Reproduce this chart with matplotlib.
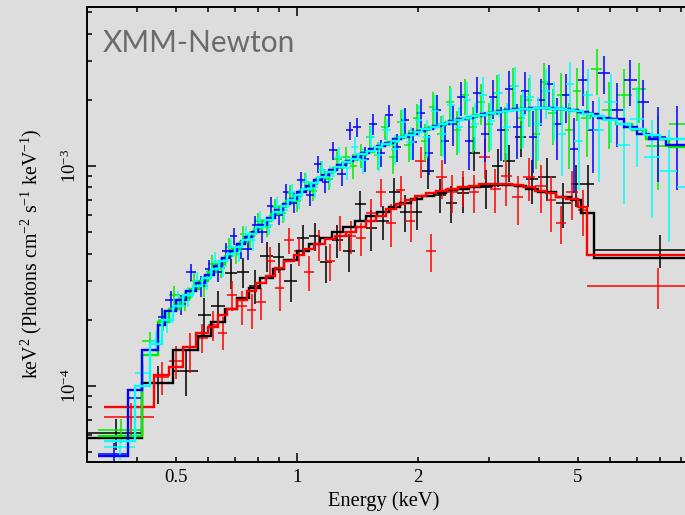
import numpy as np
import matplotlib
matplotlib.use('Agg')
import matplotlib.pyplot as plt
from matplotlib.ticker import NullFormatter

# ---------------- data (keV bin edges, keV^2 flux, 1-sigma errors, model) ----------------
black_edges = [0.30, 0.41, 0.49, 0.566, 0.61, 0.66, 0.71, 0.76, 0.81, 0.87, 0.93, 1.00, 1.07,
               1.14, 1.22, 1.30, 1.39, 1.48, 1.58, 1.69, 1.80, 1.92, 2.05, 2.19, 2.34, 2.50,
               2.67, 2.85, 3.05, 3.26, 3.48, 3.72, 3.98, 4.40, 4.80, 5.10, 5.47, 10.5]
black_flux = [6.1e-5, 1.03e-4, 1.17e-4, 2.1e-4, 2.3e-4, 3.26e-4, 3.3e-4, 2.85e-4, 3.9e-4, 3.85e-4,
              3.0e-4, 4.7e-4, 4.8e-4, 3.65e-4, 4.6e-4, 4.1e-4, 6.7e-4, 5.2e-4, 5.6e-4, 7.6e-4,
              6.2e-4, 6.2e-4, 9.5e-4, 7.4e-4, 6.8e-4, 7.5e-4, 1.15e-3, 8.0e-4, 1.0e-3, 1.05e-3,
              1.35e-3, 8.7e-4, 8.9e-4, 6.8e-4, 8.3e-4, 8.3e-4, 4.15e-4]
black_err = [1.0e-5, 2.0e-5, 2.7e-5, 4.0e-5, 4.0e-5, 5.0e-5, 5.0e-5, 5.0e-5, 6.0e-5, 6.0e-5,
             6.0e-5, 7.0e-5, 7.0e-5, 7.0e-5, 8.0e-5, 8.0e-5, 1.0e-4, 1.1e-4, 1.0e-4, 1.2e-4,
             1.2e-4, 1.1e-4, 1.6e-4, 1.3e-4, 1.3e-4, 1.4e-4, 2.0e-4, 1.6e-4, 2.0e-4, 2.0e-4,
             2.5e-4, 2.0e-4, 2.0e-4, 1.6e-4, 1.8e-4, 1.8e-4, 7.0e-5]
black_model = [5.8e-5, 1.03e-4, 1.45e-4, 1.69e-4, 1.96e-4, 2.25e-4, 2.5e-4, 2.8e-4, 3.1e-4, 3.4e-4,
               3.75e-4, 4.1e-4, 4.4e-4, 4.7e-4, 5.0e-4, 5.3e-4, 5.6e-4, 5.9e-4, 6.2e-4, 6.5e-4,
               6.8e-4, 7.05e-4, 7.3e-4, 7.55e-4, 7.75e-4, 7.9e-4, 8.05e-4, 8.15e-4, 8.2e-4, 8.2e-4,
               8.1e-4, 7.9e-4, 7.6e-4, 7.2e-4, 7.0e-4, 6.1e-4, 3.8e-4]

red_edges = [0.33, 0.44, 0.48, 0.52, 0.56, 0.60, 0.635, 0.67, 0.71, 0.75, 0.79, 0.835, 0.88,
             0.93, 0.98, 1.04, 1.10, 1.17, 1.24, 1.32, 1.40, 1.48, 1.57, 1.66, 1.76, 1.86,
             1.97, 2.09, 2.22, 2.36, 2.51, 2.67, 2.84, 3.02, 3.21, 3.42, 3.65, 3.90, 4.17,
             4.41, 4.67, 5.00, 5.27, 10.5]
red_flux = [7.2e-5, 1.10e-4, 1.3e-4, 1.45e-4, 1.66e-4, 1.9e-4, 1.75e-4, 2.6e-4, 2.3e-4, 2.22e-4,
            2.4e-4, 3.7e-4, 2.8e-4, 4.6e-4, 4.1e-4, 3.3e-4, 4.4e-4, 3.7e-4, 5.0e-4, 4.8e-4,
            4.7e-4, 6.1e-4, 7.6e-4, 5.5e-4, 7.8e-4, 5.6e-4, 1.05e-3, 4.1e-4, 8.9e-4, 7.6e-4,
            8.0e-4, 7.6e-4, 1.1e-3, 7.9e-4, 9.0e-4, 7.2e-4, 8.9e-4, 8.1e-4, 7.0e-4, 5.5e-4,
            7.6e-4, 6.3e-4, 2.84e-4]
red_err = [1.2e-5, 1.9e-5, 2.2e-5, 3.0e-5, 2.5e-5, 3.0e-5, 3.0e-5, 4.0e-5, 4.0e-5, 4.0e-5,
           4.0e-5, 6.0e-5, 6.0e-5, 6.0e-5, 6.0e-5, 6.0e-5, 7.0e-5, 7.0e-5, 9.0e-5, 8.0e-5,
           8.0e-5, 1.0e-4, 1.1e-4, 1.2e-4, 1.2e-4, 1.1e-4, 1.7e-4, 8.0e-5, 1.8e-4, 1.5e-4,
           1.5e-4, 1.5e-4, 2.3e-4, 1.8e-4, 2.4e-4, 1.8e-4, 2.0e-4, 2.0e-4, 2.0e-4, 1.1e-4,
           1.9e-4, 1.5e-4, 6.0e-5]
red_model = [8.0e-5, 1.12e-4, 1.22e-4, 1.5e-4, 1.74e-4, 1.85e-4, 2.1e-4, 2.25e-4, 2.45e-4, 2.7e-4,
             2.95e-4, 3.15e-4, 3.45e-4, 3.7e-4, 3.95e-4, 4.2e-4, 4.4e-4, 4.65e-4, 4.8e-4, 5.0e-4,
             5.3e-4, 5.6e-4, 5.95e-4, 6.4e-4, 6.75e-4, 7.0e-4, 7.3e-4, 7.5e-4, 7.7e-4, 7.9e-4,
             8.05e-4, 8.15e-4, 8.25e-4, 8.3e-4, 8.3e-4, 8.2e-4, 8.0e-4, 7.7e-4, 7.5e-4, 7.25e-4,
             7.1e-4, 6.5e-4, 3.94e-4]

green_edges = [0.32, 0.41, 0.45, 0.48, 0.51, 0.54, 0.57, 0.60, 0.63, 0.66, 0.69, 0.72, 0.75,
               0.78, 0.82, 0.86, 0.90, 0.94, 0.98, 1.02, 1.07, 1.12, 1.17, 1.23, 1.29, 1.35,
               1.41, 1.48, 1.55, 1.62, 1.69, 1.77, 1.85, 1.94, 2.03, 2.13, 2.23, 2.34, 2.45,
               2.56, 2.68, 2.81, 2.94, 3.07, 3.21, 3.36, 3.52, 3.68, 3.85, 4.03, 4.22, 4.42,
               4.63, 4.85, 5.10, 5.40, 5.75, 6.20, 6.80, 7.40, 8.40, 10.5]
green_flux = [6.3e-5, 1.6e-4, 2.0e-4, 2.6e-4, 2.45e-4, 3.0e-4, 2.85e-4, 3.6e-4, 3.45e-4, 4.3e-4,
              4.0e-4, 4.9e-4, 4.6e-4, 5.6e-4, 5.3e-4, 6.5e-4, 6.1e-4, 7.5e-4, 6.9e-4, 8.5e-4,
              7.7e-4, 9.6e-4, 8.7e-4, 1.08e-3, 1.10e-3, 1.0e-3, 1.12e-3, 1.35e-3, 1.12e-3, 1.50e-3,
              1.10e-3, 1.58e-3, 1.25e-3, 1.65e-3, 1.30e-3, 1.85e-3, 1.40e-3, 1.95e-3, 1.45e-3, 2.1e-3,
              1.50e-3, 1.95e-3, 1.55e-3, 2.15e-3, 1.45e-3, 2.3e-3, 1.65e-3, 2.0e-3, 1.40e-3, 2.4e-3,
              1.75e-3, 2.1e-3, 1.45e-3, 2.2e-3, 1.65e-3, 2.75e-3, 1.80e-3, 2.1e-3, 2.25e-3, 1.23e-3,
              1.55e-3]
green_err = [0.8e-5, 1.6e-5, 2.2e-5, 2.6e-5, 2.6e-5, 3.0e-5, 3.0e-5, 3.5e-5, 3.5e-5, 4.0e-5,
             4.0e-5, 4.5e-5, 4.6e-5, 5.2e-5, 5.4e-5, 6.0e-5, 6.2e-5, 7.0e-5, 7.0e-5, 8.0e-5,
             8.0e-5, 9.0e-5, 9.5e-5, 1.1e-4, 1.2e-4, 1.3e-4, 1.4e-4, 1.7e-4, 1.6e-4, 1.9e-4,
             1.8e-4, 2.2e-4, 2.1e-4, 2.6e-4, 2.5e-4, 3.1e-4, 2.9e-4, 3.5e-4, 3.3e-4, 3.9e-4,
             3.6e-4, 4.2e-4, 3.9e-4, 4.5e-4, 4.1e-4, 5.0e-4, 4.5e-4, 5.0e-4, 4.3e-4, 5.4e-4,
             5.0e-4, 5.5e-4, 4.8e-4, 6.0e-4, 5.5e-4, 6.5e-4, 6.0e-4, 6.5e-4, 6.8e-4, 4.5e-4,
             5.5e-4]
green_model = [5.9e-5, 1.38e-4, 1.95e-4, 2.25e-4, 2.5e-4, 2.75e-4, 3.0e-4, 3.3e-4, 3.6e-4, 3.9e-4,
               4.2e-4, 4.5e-4, 4.8e-4, 5.15e-4, 5.6e-4, 6.05e-4, 6.5e-4, 6.9e-4, 7.3e-4, 7.8e-4,
               8.3e-4, 8.8e-4, 9.3e-4, 9.8e-4, 1.03e-3, 1.07e-3, 1.12e-3, 1.16e-3, 1.21e-3, 1.25e-3,
               1.29e-3, 1.34e-3, 1.38e-3, 1.42e-3, 1.46e-3, 1.50e-3, 1.54e-3, 1.58e-3, 1.61e-3, 1.64e-3,
               1.67e-3, 1.70e-3, 1.73e-3, 1.76e-3, 1.78e-3, 1.80e-3, 1.81e-3, 1.82e-3, 1.83e-3, 1.83e-3,
               1.82e-3, 1.81e-3, 1.80e-3, 1.78e-3, 1.74e-3, 1.69e-3, 1.64e-3, 1.56e-3, 1.46e-3, 1.33e-3,
               1.22e-3]

blue_edges = [0.32, 0.38, 0.41, 0.45, 0.47, 0.50, 0.53, 0.56, 0.59, 0.62, 0.65, 0.68, 0.71,
              0.74, 0.77, 0.80, 0.84, 0.88, 0.92, 0.96, 1.00, 1.05, 1.10, 1.15, 1.20, 1.26,
              1.32, 1.38, 1.44, 1.51, 1.58, 1.65, 1.73, 1.81, 1.90, 1.99, 2.08, 2.18, 2.28,
              2.39, 2.50, 2.62, 2.74, 2.87, 3.00, 3.14, 3.29, 3.44, 3.60, 3.77, 3.95, 4.14,
              4.34, 4.55, 4.77, 5.00, 5.30, 5.60, 6.00, 6.50, 7.00, 7.50, 8.30, 9.30, 10.5]
blue_flux = [4.9e-5, 8.8e-5, 1.38e-4, 2.05e-4, 2.45e-4, 2.35e-4, 3.3e-4, 2.85e-4, 3.4e-4, 3.3e-4,
             4.1e-4, 4.8e-4, 4.2e-4, 4.2e-4, 5.4e-4, 5.0e-4, 6.6e-4, 6.0e-4, 7.6e-4, 6.8e-4,
             8.6e-4, 7.4e-4, 1.02e-3, 8.5e-4, 1.18e-3, 9.2e-4, 1.45e-3, 1.50e-3, 1.08e-3, 1.55e-3,
             1.15e-3, 1.70e-3, 1.22e-3, 1.62e-3, 1.28e-3, 1.75e-3, 1.15e-3, 1.80e-3, 1.30e-3, 1.55e-3,
             2.05e-3, 1.30e-3, 2.15e-3, 1.40e-3, 2.05e-3, 1.45e-3, 2.25e-3, 1.50e-3, 2.2e-3, 1.35e-3,
             2.0e-3, 2.35e-3, 1.55e-3, 2.1e-3, 1.20e-3, 2.45e-3, 1.45e-3, 2.65e-3, 1.80e-3, 2.45e-3,
             1.95e-3, 1.35e-3, 1.33e-3, 1.1e-3]
blue_err = [0.6e-5, 1.1e-5, 1.5e-5, 2.2e-5, 2.5e-5, 2.5e-5, 3.0e-5, 3.0e-5, 3.2e-5, 3.3e-5,
            3.8e-5, 4.2e-5, 4.2e-5, 4.5e-5, 5.0e-5, 5.2e-5, 6.0e-5, 6.0e-5, 7.0e-5, 7.0e-5,
            8.0e-5, 8.0e-5, 9.5e-5, 9.5e-5, 1.1e-4, 1.1e-4, 1.4e-4, 1.5e-4, 1.4e-4, 1.7e-4,
            1.6e-4, 1.9e-4, 1.8e-4, 2.2e-4, 2.1e-4, 2.6e-4, 2.4e-4, 3.0e-4, 2.8e-4, 3.2e-4,
            3.6e-4, 3.4e-4, 4.0e-4, 3.6e-4, 4.2e-4, 4.0e-4, 4.5e-4, 4.2e-4, 4.8e-4, 4.2e-4,
            4.8e-4, 5.2e-4, 4.8e-4, 5.3e-4, 4.5e-4, 5.8e-4, 5.2e-4, 5.2e-4, 5.8e-4, 5.8e-4,
            5.2e-4, 5.0e-4, 5.5e-4, 5.5e-4]
blue_model = [4.8e-5, 9.6e-5, 1.45e-4, 1.9e-4, 2.2e-4, 2.45e-4, 2.7e-4, 2.95e-4, 3.2e-4, 3.5e-4,
              3.8e-4, 4.1e-4, 4.4e-4, 4.75e-4, 5.0e-4, 5.4e-4, 5.8e-4, 6.3e-4, 6.7e-4, 7.1e-4,
              7.6e-4, 8.1e-4, 8.6e-4, 9.1e-4, 9.6e-4, 1.01e-3, 1.05e-3, 1.10e-3, 1.14e-3, 1.19e-3,
              1.23e-3, 1.27e-3, 1.32e-3, 1.36e-3, 1.40e-3, 1.44e-3, 1.48e-3, 1.52e-3, 1.56e-3, 1.60e-3,
              1.63e-3, 1.66e-3, 1.69e-3, 1.72e-3, 1.75e-3, 1.77e-3, 1.79e-3, 1.81e-3, 1.82e-3, 1.83e-3,
              1.83e-3, 1.83e-3, 1.82e-3, 1.81e-3, 1.79e-3, 1.76e-3, 1.72e-3, 1.66e-3, 1.63e-3, 1.50e-3,
              1.40e-3, 1.32e-3, 1.25e-3, 1.22e-3]

cyan_edges = [0.33, 0.395, 0.43, 0.46, 0.49, 0.52, 0.55, 0.58, 0.61, 0.64, 0.67, 0.70, 0.73,
              0.76, 0.79, 0.83, 0.87, 0.91, 0.95, 0.99, 1.03, 1.08, 1.13, 1.18, 1.24, 1.30,
              1.36, 1.42, 1.49, 1.56, 1.63, 1.71, 1.79, 1.87, 1.96, 2.05, 2.15, 2.25, 2.36,
              2.47, 2.59, 2.71, 2.84, 2.97, 3.11, 3.25, 3.40, 3.56, 3.72, 3.89, 4.07, 4.26,
              4.46, 4.67, 4.89, 5.15, 5.45, 5.80, 6.25, 6.75, 7.30, 8.00, 8.80, 10.0]
cyan_flux = [5.3e-5, 1.15e-4, 1.6e-4, 1.95e-4, 2.45e-4, 2.55e-4, 3.0e-4, 3.05e-4, 3.7e-4, 3.5e-4,
             4.3e-4, 4.1e-4, 4.9e-4, 4.6e-4, 5.7e-4, 5.4e-4, 6.6e-4, 6.3e-4, 7.6e-4, 7.1e-4,
             8.5e-4, 8.0e-4, 9.6e-4, 9.0e-4, 1.10e-3, 9.8e-4, 1.22e-3, 1.06e-3, 1.35e-3, 1.12e-3,
             1.45e-3, 1.20e-3, 1.58e-3, 1.28e-3, 1.62e-3, 1.35e-3, 1.78e-3, 1.40e-3, 1.90e-3, 1.50e-3,
             2.0e-3, 1.55e-3, 2.1e-3, 1.60e-3, 2.15e-3, 1.50e-3, 2.3e-3, 1.70e-3, 2.05e-3, 1.55e-3,
             2.2e-3, 1.85e-3, 1.40e-3, 2.35e-3, 1.30e-3, 2.1e-3, 1.45e-3, 1.95e-3, 1.25e-3, 1.64e-3,
             1.10e-3, 9.5e-4, 8.0e-4]
cyan_err = [0.7e-5, 1.2e-5, 1.7e-5, 2.0e-5, 2.5e-5, 2.6e-5, 3.0e-5, 3.1e-5, 3.5e-5, 3.6e-5,
            4.0e-5, 4.2e-5, 4.6e-5, 4.8e-5, 5.4e-5, 5.6e-5, 6.2e-5, 6.5e-5, 7.2e-5, 7.3e-5,
            8.2e-5, 8.4e-5, 9.4e-5, 9.6e-5, 1.2e-4, 1.2e-4, 1.4e-4, 1.4e-4, 1.7e-4, 1.7e-4,
            1.9e-4, 1.9e-4, 2.3e-4, 2.2e-4, 2.7e-4, 2.6e-4, 3.2e-4, 3.0e-4, 3.7e-4, 3.5e-4,
            4.0e-4, 3.8e-4, 4.4e-4, 4.2e-4, 4.8e-4, 4.3e-4, 5.2e-4, 4.9e-4, 5.4e-4, 5.0e-4,
            5.7e-4, 5.5e-4, 5.0e-4, 6.2e-4, 5.2e-4, 6.5e-4, 6.0e-4, 6.8e-4, 5.8e-4, 6.5e-4,
            5.2e-4, 5.0e-4, 4.2e-4]
cyan_model = [5.6e-5, 1.0e-4, 1.55e-4, 2.0e-4, 2.3e-4, 2.6e-4, 2.85e-4, 3.1e-4, 3.4e-4, 3.7e-4,
              4.0e-4, 4.3e-4, 4.6e-4, 4.9e-4, 5.3e-4, 5.7e-4, 6.15e-4, 6.6e-4, 7.0e-4, 7.4e-4,
              7.9e-4, 8.4e-4, 8.9e-4, 9.4e-4, 9.9e-4, 1.04e-3, 1.08e-3, 1.13e-3, 1.17e-3, 1.22e-3,
              1.26e-3, 1.30e-3, 1.35e-3, 1.39e-3, 1.43e-3, 1.47e-3, 1.51e-3, 1.55e-3, 1.59e-3, 1.62e-3,
              1.65e-3, 1.68e-3, 1.71e-3, 1.74e-3, 1.76e-3, 1.78e-3, 1.80e-3, 1.81e-3, 1.82e-3, 1.83e-3,
              1.83e-3, 1.82e-3, 1.81e-3, 1.79e-3, 1.77e-3, 1.73e-3, 1.68e-3, 1.62e-3, 1.55e-3, 1.47e-3,
              1.38e-3, 1.33e-3, 1.33e-3]

# ticks
x_major_ticks = [1, 10]
x_major_labels = ['1', '']
x_minor_ticks = [0.4, 0.5, 0.6, 0.7, 0.8, 0.9, 2, 3, 4, 5, 6, 7, 8, 9]
x_minor_labels = ['', '0.5', '', '', '', '', '2', '', '', '5', '', '', '', '']
y_major_ticks = [1e-4, 1e-3]
y_major_labels = [r'$10^{-4}$', r'$10^{-3}$']
y_minor_ticks = [5e-5, 6e-5, 7e-5, 8e-5, 9e-5, 2e-4, 3e-4, 4e-4, 5e-4, 6e-4, 7e-4, 8e-4, 9e-4,
                 2e-3, 3e-3, 4e-3, 5e-3]

# ---------------- style ----------------
plt.rcParams['font.family'] = ['Liberation Serif', 'DejaVu Serif']
plt.rcParams['mathtext.fontset'] = 'custom'
plt.rcParams['mathtext.rm'] = 'Liberation Serif'
plt.rcParams['mathtext.it'] = 'Liberation Serif:italic'
plt.rcParams['mathtext.bf'] = 'Liberation Serif:bold'

BG = '#dddddd'
fig = plt.figure(figsize=(6.85, 5.15), dpi=100, facecolor=BG)
ax = fig.add_axes([87 / 685, 53 / 515, 612 / 685, 455 / 515], facecolor=BG)
ax.set_xscale('log')
ax.set_yscale('log')

series = [
    (black_edges, black_flux, black_err, black_model, 'black'),
    (red_edges, red_flux, red_err, red_model, '#ff0000'),
    (green_edges, green_flux, green_err, green_model, '#00ee00'),
    (blue_edges, blue_flux, blue_err, blue_model, '#0000ff'),
    (cyan_edges, cyan_flux, cyan_err, cyan_model, '#00ffff'),
]

for edges, flux, err, model, col in series:
    e = np.asarray(edges)
    lo, hi = e[:-1], e[1:]
    c = 0.5 * (lo + hi)
    ax.errorbar(c, flux, xerr=[c - lo, hi - c], yerr=err, fmt='none',
                ecolor=col, elinewidth=1.1, capsize=0, zorder=2)

for edges, flux, err, model, col in series:
    ax.stairs(model, edges, baseline=None, color=col, lw=1.7, zorder=3)

ax.set_xlim(0.3, 10.0)
ax.set_ylim(4.513e-5, 5.281e-3)

ax.set_xticks(x_major_ticks, x_major_labels)
ax.set_xticks(x_minor_ticks, x_minor_labels, minor=True)
ax.set_yticks(y_major_ticks, y_major_labels)
ax.set_yticks(y_minor_ticks, minor=True)
ax.yaxis.set_minor_formatter(NullFormatter())

ax.tick_params(which='both', direction='in', top=True, right=True, width=1.1,
               colors='black', labelsize=13.5)
ax.tick_params(which='major', length=6.5)
ax.tick_params(which='minor', length=3.7)
ax.tick_params(axis='x', which='both', pad=5)
ax.tick_params(axis='y', which='both', pad=5, labelrotation=90)
for lbl in ax.get_yticklabels():
    lbl.set_va('center')

for sp in ax.spines.values():
    sp.set_linewidth(1.4)

fig.text(103 / 685, 1 - 52 / 515, 'XMM-Newton', family=['Lato', 'DejaVu Sans'],
         size=21.5, color='#6b6b6b', ha='left', va='baseline')
fig.text(384 / 685, 1 - 501 / 515, 'Energy (keV)', ha='center', va='center', size=14.8)
fig.text(31 / 685, 1 - 254 / 515,
         r'keV$^2$ (Photons cm$^{-2}$ s$^{-1}$ keV$^{-1}$)',
         rotation=90, ha='center', va='center', size=14.3)

fig.savefig('out.png', dpi=100, facecolor=BG)
